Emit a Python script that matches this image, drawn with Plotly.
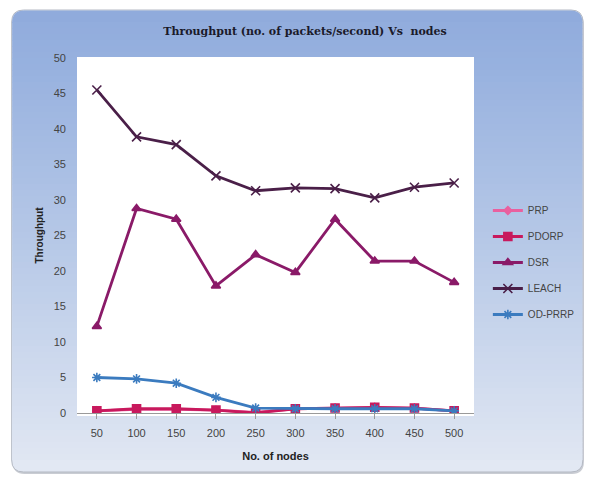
import plotly.graph_objects as go

nodes = ["50", "100", "150", "200", "250", "300", "350", "400", "450", "500"]
prp = [0.3, 0.5, 0.5, 0.4, 0.1, 0.6, 0.7, 0.8, 0.7, 0.3]
pdorp = [0.3, 0.6, 0.6, 0.4, 0.0, 0.6, 0.7, 0.8, 0.7, 0.3]
dsr = [12.2, 28.8, 27.3, 17.9, 22.3, 19.8, 27.3, 21.4, 21.4, 18.4]
leach = [45.5, 38.9, 37.8, 33.4, 31.3, 31.7, 31.6, 30.3, 31.8, 32.4]
odprrp = [5.0, 4.8, 4.2, 2.2, 0.7, 0.6, 0.6, 0.6, 0.6, 0.3]
y_ticks = [0, 5, 10, 15, 20, 25, 30, 35, 40, 45, 50]

W, H = 592, 477
L, R, T, B = 77, 114, 58, 64
pw, ph = W - L - R, H - T - B


def px_x(px):
    return (px - L) / pw


def px_y(py):
    return (H - B - py) / ph


# ---- panel background (rounded, vertical gradient) ----
PX0, PX1, PY0, PY1, RAD = 11, 588, 10, 472, 12
stops = [(0.0, (0x90, 0xab, 0xdc)), (0.12, (0x97, 0xb1, 0xdf)),
         (0.5, (0xb6, 0xc8, 0xe7)), (1.0, (0xe2, 0xe8, 0xf3))]


def grad(t):
    for (a, ca), (b, cb) in zip(stops[:-1], stops[1:]):
        if a <= t <= b:
            f = (t - a) / (b - a)
            c = [round(ca[i] + (cb[i] - ca[i]) * f) for i in range(3)]
            return "rgb(%d,%d,%d)" % tuple(c)
    return "rgb(%d,%d,%d)" % stops[-1][1]


def rpath(x0, y0, x1, y1, rt, rb):
    X = lambda v: px_x(v)
    Y = lambda v: px_y(v)
    p = f"M {X(x0 + rt)},{Y(y0)} L {X(x1 - rt)},{Y(y0)} "
    p += f"Q {X(x1)},{Y(y0)} {X(x1)},{Y(y0 + rt)} " if rt else ""
    p += f"L {X(x1)},{Y(y1 - rb)} "
    p += f"Q {X(x1)},{Y(y1)} {X(x1 - rb)},{Y(y1)} " if rb else ""
    p += f"L {X(x0 + rb)},{Y(y1)} "
    p += f"Q {X(x0)},{Y(y1)} {X(x0)},{Y(y1 - rb)} " if rb else ""
    p += f"L {X(x0)},{Y(y0 + rt)} "
    p += f"Q {X(x0)},{Y(y0)} {X(x0 + rt)},{Y(y0)} " if rt else ""
    return p + "Z"


shapes = []
shapes.append(dict(type="path", xref="paper", yref="paper",
                   path=rpath(PX0 + 1, PY0 + 2, PX1 + 1, PY1 + 2, RAD, RAD),
                   fillcolor="#c9ccd3", line=dict(width=0), layer="below"))
shapes.append(dict(type="path", xref="paper", yref="paper",
                   path=rpath(PX0, PY0, PX1, PY1, RAD, RAD),
                   fillcolor=grad(1.0), line=dict(color="#b4b9c3", width=1), layer="below"))
shapes.append(dict(type="path", xref="paper", yref="paper",
                   path=rpath(PX0 + 0.5, PY0 + 0.5, PX1 - 0.5, PY0 + RAD + 1, RAD, 0),
                   fillcolor=grad(0.0), line=dict(width=0), layer="below"))
ys = PY0 + RAD
step = 6
while ys < PY1 - RAD:
    ye = min(ys + step + 0.6, PY1 - RAD)
    t = ((ys + ye) / 2 - PY0) / (PY1 - PY0)
    shapes.append(dict(type="rect", xref="paper", yref="paper",
                       x0=px_x(PX0 + 0.5), x1=px_x(PX1 - 0.5), y0=px_y(ye), y1=px_y(ys),
                       fillcolor=grad(t), line=dict(width=0), layer="below"))
    ys += step
# white plot area
shapes.append(dict(type="rect", xref="paper", yref="paper",
                   x0=0, x1=1, y0=px_y(416), y1=px_y(57),
                   fillcolor="white", line=dict(width=0), layer="below"))

fig = go.Figure()
series = [
    ("PRP", prp, "#e9609f", "diamond", 6),
    ("PDORP", pdorp, "#c8195d", "square", 8),
    ("DSR", dsr, "#8a1a68", "triangle-up", 8),
    ("LEACH", leach, "#4a1f48", "x-thin-open", 9),
    ("OD-PRRP", odprrp, "#3b7bbf", "asterisk-open", 8),
]
for name, vals, col, sym, sz in series:
    fig.add_trace(go.Scatter(
        x=nodes, y=vals, name=name, legendgroup=name, mode="lines+markers",
        line=dict(color=col, width=2.8),
        marker=dict(symbol=sym, size=sz, color=col, line=dict(color=col, width=1.6)),
    ))

fig.update_layout(
    width=W, height=H,
    margin=dict(l=L, r=R, t=T, b=B),
    paper_bgcolor="white", plot_bgcolor="rgba(0,0,0,0)",
    title=dict(text="<b>Throughput (no. of packets/second) Vs  nodes</b>",
               x=305 / W, xanchor="center",
               y=1 - 31 / H, yanchor="middle",
               font=dict(family="DejaVu Serif", size=11, color="#1a1a2a")),
    shapes=shapes,
    legend=dict(x=px_x(492), y=px_y(196), xanchor="left", yanchor="top",
                bgcolor="rgba(0,0,0,0)", tracegroupgap=7,
                font=dict(family="Liberation Sans", size=10, color="#444444"),
                itemwidth=30),
    showlegend=True,
)
fig.update_xaxes(
    type="category", range=[-0.5, 9.5], showgrid=False, zeroline=False,
    showline=True, linecolor="#9a9a9a", linewidth=1,
    ticks="outside", ticklen=5, tickcolor="#9a9a9a", ticklabelstandoff=5,
    tickfont=dict(family="Liberation Sans", size=11, color="#444444"),
    title=dict(text="<b>No. of nodes</b>", standoff=14,
               font=dict(family="Liberation Sans", size=11, color="#222222")),
)
fig.update_yaxes(
    range=[0, 50], tickvals=y_ticks, showgrid=False, zeroline=False,
    showline=False, ticks="", ticklabelstandoff=10,
    tickfont=dict(family="Liberation Sans", size=11, color="#444444"),
    title=dict(text="<b>Throughput</b>", standoff=8,
               font=dict(family="Liberation Sans", size=10, color="#222222")),
)
fig.write_html("out.html", config={"displayModeBar": False},
               post_script="document.body.style.margin='0px';document.body.style.overflow='hidden';")
